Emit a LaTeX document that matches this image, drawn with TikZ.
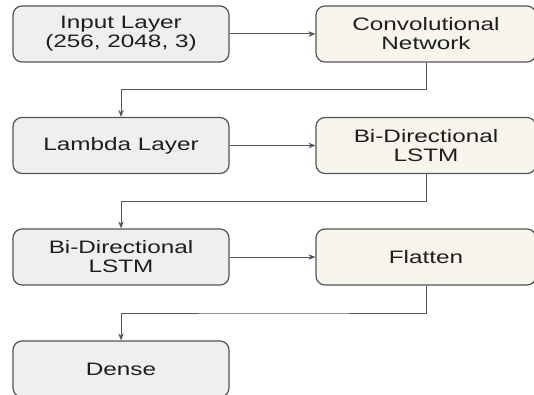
\documentclass[tikz,border=0pt]{standalone}
\usepackage{fontspec}
\setmainfont[FakeStretch=1.35]{Liberation Sans}
\usetikzlibrary{arrows.meta,calc}
\definecolor{boxline}{HTML}{555555}
\definecolor{grayfill}{HTML}{EFEFEF}
\definecolor{creamfill}{HTML}{F8F5EC}
\definecolor{inktext}{HTML}{1E1E1E}
\tikzset{
  layerbox/.style={draw=boxline, line width=1.2pt, rounded corners=9pt,
    minimum width=216pt, minimum height=56pt, align=center,
    text=inktext, font=\fontsize{18}{19}\selectfont, inner sep=0pt},
  leftbox/.style={layerbox, fill=grayfill},
  rightbox/.style={layerbox, fill=creamfill, minimum width=220pt},
  flow/.style={draw=boxline, line width=1pt,
    -{Stealth[length=7pt,width=5.5pt]}}
}
\begin{document}
\begin{tikzpicture}[x=1pt,y=-1pt]
  \useasboundingbox (0,0) rectangle (534,395);
  \clip (0,0) rectangle (534,395);
  \fill[white] (0,0) rectangle (534,395);

  % left column
  \node[leftbox]  (input)  at (121,34)    {Input Layer\\(256, 2048, 3)};
  \node[leftbox]  (lambda) at (121,145.5) {Lambda Layer};
  \node[leftbox]  (bilstmb) at (121,257)  {Bi-Directional\\LSTM};
  \node[leftbox]  (dense)  at (121,369)   {Dense};

  % right column
  \node[rightbox] (conv)   at (426,34)    {Convolutional\\Network};
  \node[rightbox] (bilstma) at (426,145.5) {Bi-Directional\\LSTM};
  \node[rightbox] (flat)   at (426,257)   {Flatten};

  % horizontal links
  \draw[flow] (input) -- (conv);
  \draw[flow] (lambda) -- (bilstma);
  \draw[flow] (bilstmb) -- (flat);

  % elbow links back to the left column
  \draw[flow] (conv.south) |- ($(conv.south)!0.5!(lambda.north)$) -| (lambda.north);
  \draw[flow] (bilstma.south) |- ($(bilstma.south)!0.5!(bilstmb.north)$) -| (bilstmb.north);
  \draw[flow] (flat.south) |- ($(flat.south)!0.5!(dense.north)$) -| (dense.north);
\end{tikzpicture}
\end{document}
